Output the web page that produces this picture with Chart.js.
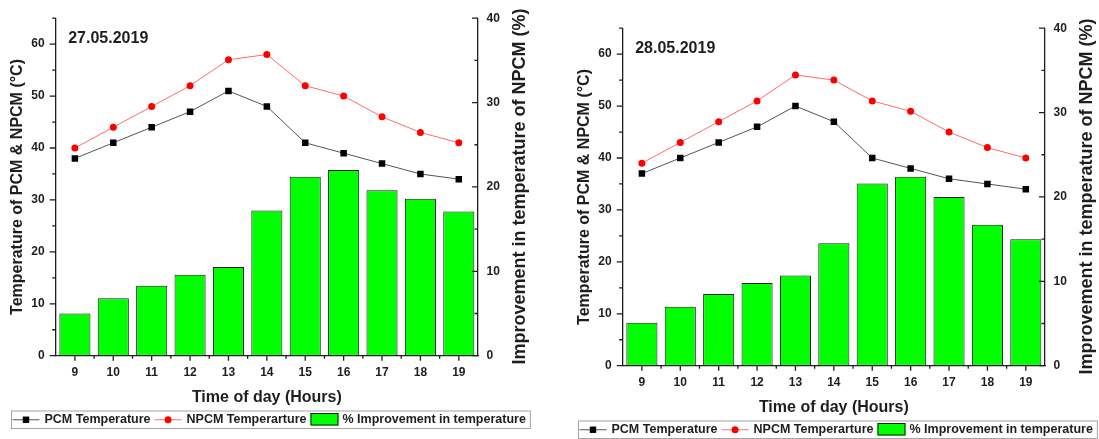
<!DOCTYPE html>
<html>
<head>
<meta charset="utf-8">
<script src="https://cdn.jsdelivr.net/npm/chart.js@4.4.1/dist/chart.umd.min.js"></script>
<style>
  html, body { margin: 0; padding: 0; background: #fff; width: 1099px; height: 439px; overflow: hidden; }
  canvas { position: absolute; }
  #day1 { left: 0; top: 0; }
  #day2 { left: 567px; top: 10px; }
</style>
</head>
<body>
<canvas id="day1" width="549" height="439"></canvas>
<canvas id="day2" width="549" height="439"></canvas>
<script>
// Hours of the day (categories)
const hours = ['9', '10', '11', '12', '13', '14', '15', '16', '17', '18', '19'];

// 27.05.2019
const pcm27  = [38, 41, 44, 47, 51, 48, 41, 39, 37, 35, 34];
const npcm27 = [40, 44, 48, 52, 57, 58, 52, 50, 46, 43, 41];
const gain27 = [5.0, 6.8, 8.3, 9.6, 10.5, 17.2, 21.2, 22.0, 19.6, 18.6, 17.1];

// 28.05.2019
const pcm28  = [37, 40, 43, 46, 50, 47, 40, 38, 36, 35, 34];
const npcm28 = [39, 43, 47, 51, 56, 55, 51, 49, 45, 42, 40];
const gain28 = [5.1, 7.0, 8.5, 9.8, 10.7, 14.5, 21.6, 22.4, 20.0, 16.7, 15.0];

// Axis ticks
const tempTicks = [0, 10, 20, 30, 40, 50, 60];
const gainTicks = [0, 10, 20, 30, 40];

const FONT = '"Liberation Sans", Arial, Helvetica, sans-serif';
const INK = '#1e1e1e';
Chart.defaults.font.family = FONT;
Chart.defaults.color = INK;

// Tick marks, right-hand title, date stamp and framed legend
const decor = {
  id: 'decor',
  afterDraw(chart, args, opts) {
    const { ctx, chartArea: a, scales } = chart;
    const xs = scales.x, yl = scales.y, yr = scales.y1;
    ctx.save();
    ctx.strokeStyle = INK;
    ctx.lineWidth = 1.3;
    ctx.beginPath();
    // left axis: ticks pointing outward, minor ticks every 5
    for (let v = yl.min; v <= yl.max; v += 5) {
      const py = yl.getPixelForValue(v);
      const len = v % 10 === 0 ? 6 : 3.5;
      ctx.moveTo(a.left, py); ctx.lineTo(a.left - len, py);
    }
    // right axis: ticks pointing into the plot
    for (let v = yr.min; v <= yr.max; v += 5) {
      const py = yr.getPixelForValue(v);
      const len = v % 10 === 0 ? 6 : 3.5;
      ctx.moveTo(a.right, py); ctx.lineTo(a.right - len, py);
    }
    // bottom axis: major at each hour, minor between hours
    for (let i = 0; i < hours.length; i++) {
      const px = xs.getPixelForValue(i);
      ctx.moveTo(px, a.bottom); ctx.lineTo(px, a.bottom + 5);
      if (i > 0) {
        const mid = (px + xs.getPixelForValue(i - 1)) / 2;
        ctx.moveTo(mid, a.bottom); ctx.lineTo(mid, a.bottom + 3);
      }
    }
    ctx.stroke();

    // right-hand axis title, reading bottom to top
    ctx.fillStyle = INK;
    ctx.save();
    ctx.translate(opts.rightTitleX, (a.top + a.bottom) / 2 - 0.5);
    ctx.rotate(-Math.PI / 2);
    ctx.font = 'bold 18px ' + FONT;
    ctx.textAlign = 'center';
    ctx.textBaseline = 'middle';
    ctx.fillText(opts.rightTitle, 0, 0);
    ctx.restore();

    // date stamp
    ctx.font = 'bold 16px ' + FONT;
    ctx.textAlign = 'left';
    ctx.textBaseline = 'alphabetic';
    ctx.fillText(opts.date, a.left + 12.5, a.top + 24.5);

    // legend
    const top = opts.legendTop, h = 17.5, left = opts.legendLeft;
    const cy = top + h / 2 + 0.5;
    let cx = left + 1.5;
    ctx.font = 'bold 12.5px ' + FONT;
    ctx.textBaseline = 'middle';
    chart.data.datasets.forEach((ds) => {
      if (ds.type === 'line') {
        ctx.strokeStyle = ds.borderColor;
        ctx.lineWidth = 1;
        ctx.beginPath();
        ctx.moveTo(cx, cy); ctx.lineTo(cx + 27, cy);
        ctx.stroke();
        ctx.fillStyle = ds.pointBackgroundColor;
        if (ds.pointStyle === 'rect') {
          ctx.fillRect(cx + 13.5 - 3.2, cy - 3.2, 6.4, 6.4);
        } else {
          ctx.beginPath();
          ctx.arc(cx + 13.5, cy, 3.5, 0, Math.PI * 2);
          ctx.fill();
        }
        cx += 32;
      } else {
        ctx.fillStyle = ds.backgroundColor;
        ctx.fillRect(cx, top + 2.5, 28, h - 5);
        ctx.strokeStyle = ds.borderColor;
        ctx.lineWidth = 1;
        ctx.strokeRect(cx + 0.5, top + 3, 27, h - 6);
        cx += 32;
      }
      ctx.fillStyle = INK;
      ctx.fillText(ds.label, cx, cy);
      cx += ctx.measureText(ds.label).width + 4;
    });
    ctx.strokeStyle = '#a3a3a3';
    ctx.lineWidth = 1;
    ctx.strokeRect(left + 0.5, top + 0.5, cx - left, h);
    ctx.restore();
  }
};

function buildChart(id, date, pcm, npcm, gain) {
  const tickFont = { size: 12, weight: 'bold', family: FONT };
  return new Chart(document.getElementById(id), {
    type: 'bar',
    data: {
      labels: hours,
      datasets: [
        {
          type: 'line', label: 'PCM Temperature', data: pcm, yAxisID: 'y',
          borderColor: '#555555', borderWidth: 1, tension: 0,
          pointStyle: 'rect', pointRadius: 4.6, pointBorderWidth: 0,
          pointBackgroundColor: '#000000', pointBorderColor: '#000000', order: 1
        },
        {
          type: 'line', label: 'NPCM Temperarture', data: npcm, yAxisID: 'y',
          borderColor: '#ff6b6b', borderWidth: 1, tension: 0,
          pointStyle: 'circle', pointRadius: 3.5, pointBorderWidth: 0,
          pointBackgroundColor: '#ff0000', pointBorderColor: '#ff0000', order: 0
        },
        {
          type: 'bar', label: '% Improvement in temperature', data: gain, yAxisID: 'y1',
          backgroundColor: '#00ff00', borderColor: '#1a1a1a', borderWidth: 1,
          borderSkipped: false, categoryPercentage: 1, barPercentage: 0.81, order: 2
        }
      ]
    },
    options: {
      responsive: false,
      animation: false,
      devicePixelRatio: 1,
      layout: { padding: { top: 18, left: 0, right: 0, bottom: 0 } },
      plugins: {
        legend: { display: false },
        tooltip: { enabled: false },
        decor: {
          date: date,
          rightTitle: 'Improvement in temperature of NPCM (%)',
          rightTitleX: 520,
          legendLeft: 11,
          legendTop: 410.5
        }
      },
      scales: {
        x: {
          type: 'category', offset: true,
          grid: { display: false, drawTicks: false },
          border: { display: true, color: INK, width: 1.3, z: 1 },
          ticks: { font: tickFont, color: INK, padding: 9.5, maxRotation: 0 },
          title: {
            display: true, text: 'Time of day (Hours)', color: INK,
            font: { size: 16, weight: 'bold', family: FONT },
            padding: { top: 0, bottom: 32 }
          },
          afterFit(s) { s.height = 83.3; }
        },
        y: {
          position: 'left', min: 0, max: 65,
          grid: { display: false, drawTicks: false },
          border: { display: true, color: INK, width: 1.3, z: 1 },
          ticks: { font: tickFont, color: INK, padding: 11 },
          afterBuildTicks(s) { s.ticks = tempTicks.map(v => ({ value: v })); },
          title: {
            display: true, text: 'Temperature of PCM & NPCM (°C)', color: INK,
            font: { size: 16, weight: 'bold', family: FONT },
            padding: { top: 8.4, bottom: 0 }
          },
          afterFit(s) { s.width = 55.7; }
        },
        y1: {
          position: 'right', min: 0, max: 40,
          grid: { display: false, drawTicks: false },
          border: { display: true, color: INK, width: 1.3, z: 1 },
          ticks: { font: tickFont, color: INK, padding: 8.5 },
          afterBuildTicks(s) { s.ticks = gainTicks.map(v => ({ value: v })); },
          afterFit(s) { s.width = 71; }
        }
      }
    },
    plugins: [decor]
  });
}

buildChart('day1', '27.05.2019', pcm27, npcm27, gain27);
buildChart('day2', '28.05.2019', pcm28, npcm28, gain28);
</script>
</body>
</html>
